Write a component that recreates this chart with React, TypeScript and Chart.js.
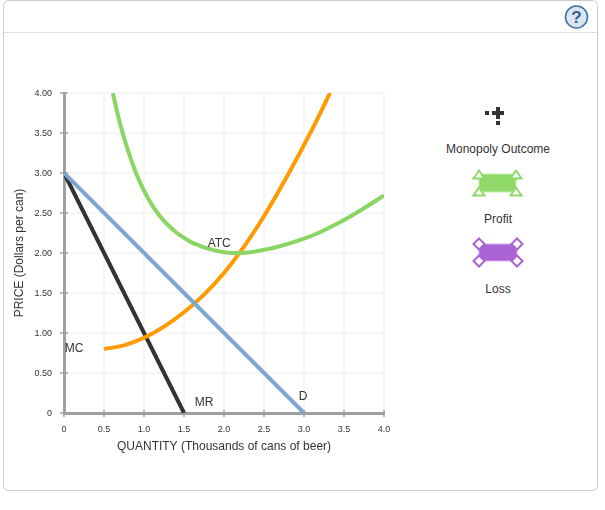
import React, { useEffect, useRef } from "react";
import { Chart, registerables } from "chart.js";

Chart.register(...registerables);

const demand = [{ x: 0, y: 3 }, { x: 3, y: 0 }];
const marginalRevenue = [{ x: 0, y: 3 }, { x: 1.5, y: 0 }];
const marginalCost = [
  { x: 0.5, y: 0.8 }, { x: 0.75, y: 0.845 }, { x: 1, y: 0.94 }, { x: 1.25, y: 1.08 },
  { x: 1.5, y: 1.26 }, { x: 1.75, y: 1.48 }, { x: 2, y: 1.75 }, { x: 2.25, y: 2.08 },
  { x: 2.5, y: 2.46 }, { x: 2.75, y: 2.89 }, { x: 3, y: 3.35 }, { x: 3.165, y: 3.67 }, { x: 3.325, y: 4 },
];
const averageTotalCost = [
  { x: 0.61, y: 4 }, { x: 0.7, y: 3.62 }, { x: 0.8, y: 3.28 }, { x: 0.9, y: 3.0 }, { x: 1, y: 2.78 },
  { x: 1.1, y: 2.6 }, { x: 1.2, y: 2.46 }, { x: 1.3, y: 2.35 }, { x: 1.4, y: 2.26 }, { x: 1.5, y: 2.19 },
  { x: 1.6, y: 2.13 }, { x: 1.7, y: 2.09 }, { x: 1.8, y: 2.055 }, { x: 1.9, y: 2.03 }, { x: 2, y: 2.01 },
  { x: 2.1, y: 2.0 }, { x: 2.2, y: 2.0 }, { x: 2.3, y: 2.005 }, { x: 2.4, y: 2.02 }, { x: 2.5, y: 2.04 },
  { x: 2.6, y: 2.06 }, { x: 2.8, y: 2.115 }, { x: 3, y: 2.18 }, { x: 3.2, y: 2.26 }, { x: 3.4, y: 2.36 },
  { x: 3.6, y: 2.47 }, { x: 3.8, y: 2.59 }, { x: 4, y: 2.72 },
];
const curveLabels = [
  { text: "ATC", x: 1.94, y: 2.115 },
  { text: "MC", x: 0.125, y: 0.8 },
  { text: "MR", x: 1.75, y: 0.13 },
  { text: "D", x: 2.99, y: 0.21 },
];
const FONT = '"Liberation Sans", Arial, sans-serif';
const TEXT = "#333333";
const AXIS = "#a0a0a0";

const overlay = {
  id: "overlay",
  afterDatasetsDraw(chart: any) {
    const { ctx, scales } = chart;
    ctx.save();
    ctx.font = `12px ${FONT}`;
    ctx.fillStyle = TEXT;
    ctx.textAlign = "center";
    ctx.textBaseline = "middle";
    curveLabels.forEach((l) => ctx.fillText(l.text, scales.x.getPixelForValue(l.x), scales.y.getPixelForValue(l.y)));
    ctx.restore();
  },
  beforeDatasetsDraw(chart: any) {
    const { ctx, scales } = chart;
    ctx.save();
    ctx.strokeStyle = AXIS;
    ctx.lineWidth = 1.5;
    scales.y.ticks.forEach((t: any) => {
      const p = scales.y.getPixelForValue(t.value);
      ctx.beginPath(); ctx.moveTo(64, p); ctx.lineTo(68, p); ctx.stroke();
    });
    scales.x.ticks.forEach((t: any) => {
      const p = scales.x.getPixelForValue(t.value);
      ctx.beginPath(); ctx.moveTo(p, 413); ctx.lineTo(p, 410); ctx.stroke();
    });
    ctx.restore();
  },
};

function Legend() {
  const t = { fontFamily: FONT, fontSize: 12, fill: TEXT, textAnchor: "middle" as const };
  const g = "#8fd968";
  const p = "#ab62d3";
  const tri = (x: number, y: number) => `${x},${y} ${x + 5.5},${y + 8} ${x - 5.5},${y + 8}`;
  const dia = (x: number, y: number) => `${x},${y - 5.5} ${x + 5.5},${y} ${x},${y + 5.5} ${x - 5.5},${y}`;
  return (
    <svg width={605} height={510} style={{ position: "absolute", left: 0, top: 0 }}>
      <rect x={3.5} y={0.5} width={594} height={490} rx={5} fill="none" stroke="#cccccc" />
      <line x1={4} x2={597} y1={32.5} y2={32.5} stroke="#dddddd" />
      <circle cx={576.5} cy={17} r={11} fill="#dde6ef" stroke="#3b6ea5" strokeWidth={1.5} />
      <text x={576.5} y={23} fontFamily={FONT} fontSize={17} fontWeight="bold" fill="#2f6099" textAnchor="middle">?</text>

      <g fill="#333333">
        <rect x={485} y={111} width={4} height={4} />
        <rect x={492} y={111} width={12} height={4} />
        <rect x={496} y={107} width={4} height={12} />
        <rect x={496} y={121} width={4} height={4} />
      </g>
      <text x={498} y={153} {...t}>Monopoly Outcome</text>

      <rect x={479} y={174} width={37} height={18} fill={g} stroke="#c4ecb0" />
      <g fill="#ffffff" stroke={g} strokeWidth={2}>
        <polygon points={tri(479, 170.5)} />
        <polygon points={tri(516, 170.5)} />
        <polygon points={tri(479, 187.5)} />
        <polygon points={tri(516, 187.5)} />
      </g>
      <text x={498} y={223} {...t}>Profit</text>

      <rect x={479} y={244} width={38} height={17} fill={p} stroke="#d6b0e9" />
      <g fill="#ffffff" stroke={p} strokeWidth={2}>
        <polygon points={dia(479, 244)} />
        <polygon points={dia(517, 244)} />
        <polygon points={dia(479, 261)} />
        <polygon points={dia(517, 261)} />
      </g>
      <text x={498} y={293} {...t}>Loss</text>
    </svg>
  );
}

export default function App() {
  const ref = useRef<HTMLCanvasElement>(null);
  useEffect(() => {
    const line = (data: any[], color: string, tension = 0) => ({
      data, borderColor: color, borderWidth: 4, pointRadius: 0, tension, borderCapStyle: "butt" as const,
    });
    const chart = new Chart(ref.current!, {
      type: "line",
      data: {
        datasets: [
          line(demand, "#7ba7d1"),
          line(averageTotalCost, "#8ad663", 0.4),
          line(marginalCost, "#ff9a00", 0.4),
          line(marginalRevenue, "#333333"),
        ],
      },
      plugins: [overlay],
      options: {
        animation: false,
        responsive: false,
        layout: { padding: { left: 0, top: 93, right: 221, bottom: 56 } },
        plugins: { legend: { display: false }, tooltip: { enabled: false } },
        scales: {
          x: {
            type: "linear", min: 0, max: 4,
            afterFit: (s: any) => { s.height = 41; },
            border: { color: AXIS, width: 3 },
            grid: { color: "#f6f6f6", lineWidth: 2, tickColor: AXIS, tickLength: 4, tickWidth: 1.5 },
            ticks: {
              stepSize: 0.5, maxRotation: 0, padding: 7, color: TEXT,
              font: { family: FONT, size: 9 },
              callback: (v: any) => (v === 0 ? "0" : Number(v).toFixed(1)),
            },
            title: { display: true, text: "QUANTITY (Thousands of cans of beer)", color: TEXT, font: { family: FONT, size: 12 }, padding: { top: 4, bottom: 0 } },
          },
          y: {
            type: "linear", min: 0, max: 4,
            afterFit: (s: any) => { s.width = 64; },
            border: { color: AXIS, width: 3 },
            grid: { color: "#f6f6f6", lineWidth: 2, tickColor: AXIS, tickLength: 4, tickWidth: 1.5 },
            ticks: {
              stepSize: 0.5, padding: 8, color: TEXT, labelOffset: 1,
              font: { family: FONT, size: 9 },
              callback: (v: any) => (v === 0 ? "0" : Number(v).toFixed(2)),
            },
            title: { display: true, text: "PRICE (Dollars per can)", color: TEXT, font: { family: FONT, size: 12 }, padding: { top: 12, bottom: 0 } },
          },
        },
      } as any,
    });
    return () => chart.destroy();
  }, []);
  return (
    <div style={{ position: "absolute", left: 0, top: 0, width: 605, height: 510, background: "#fff" }}>
      <Legend />
      <canvas ref={ref} width={605} height={510} style={{ position: "absolute", left: 0, top: 0, display: "block" }} />
    </div>
  );
}
